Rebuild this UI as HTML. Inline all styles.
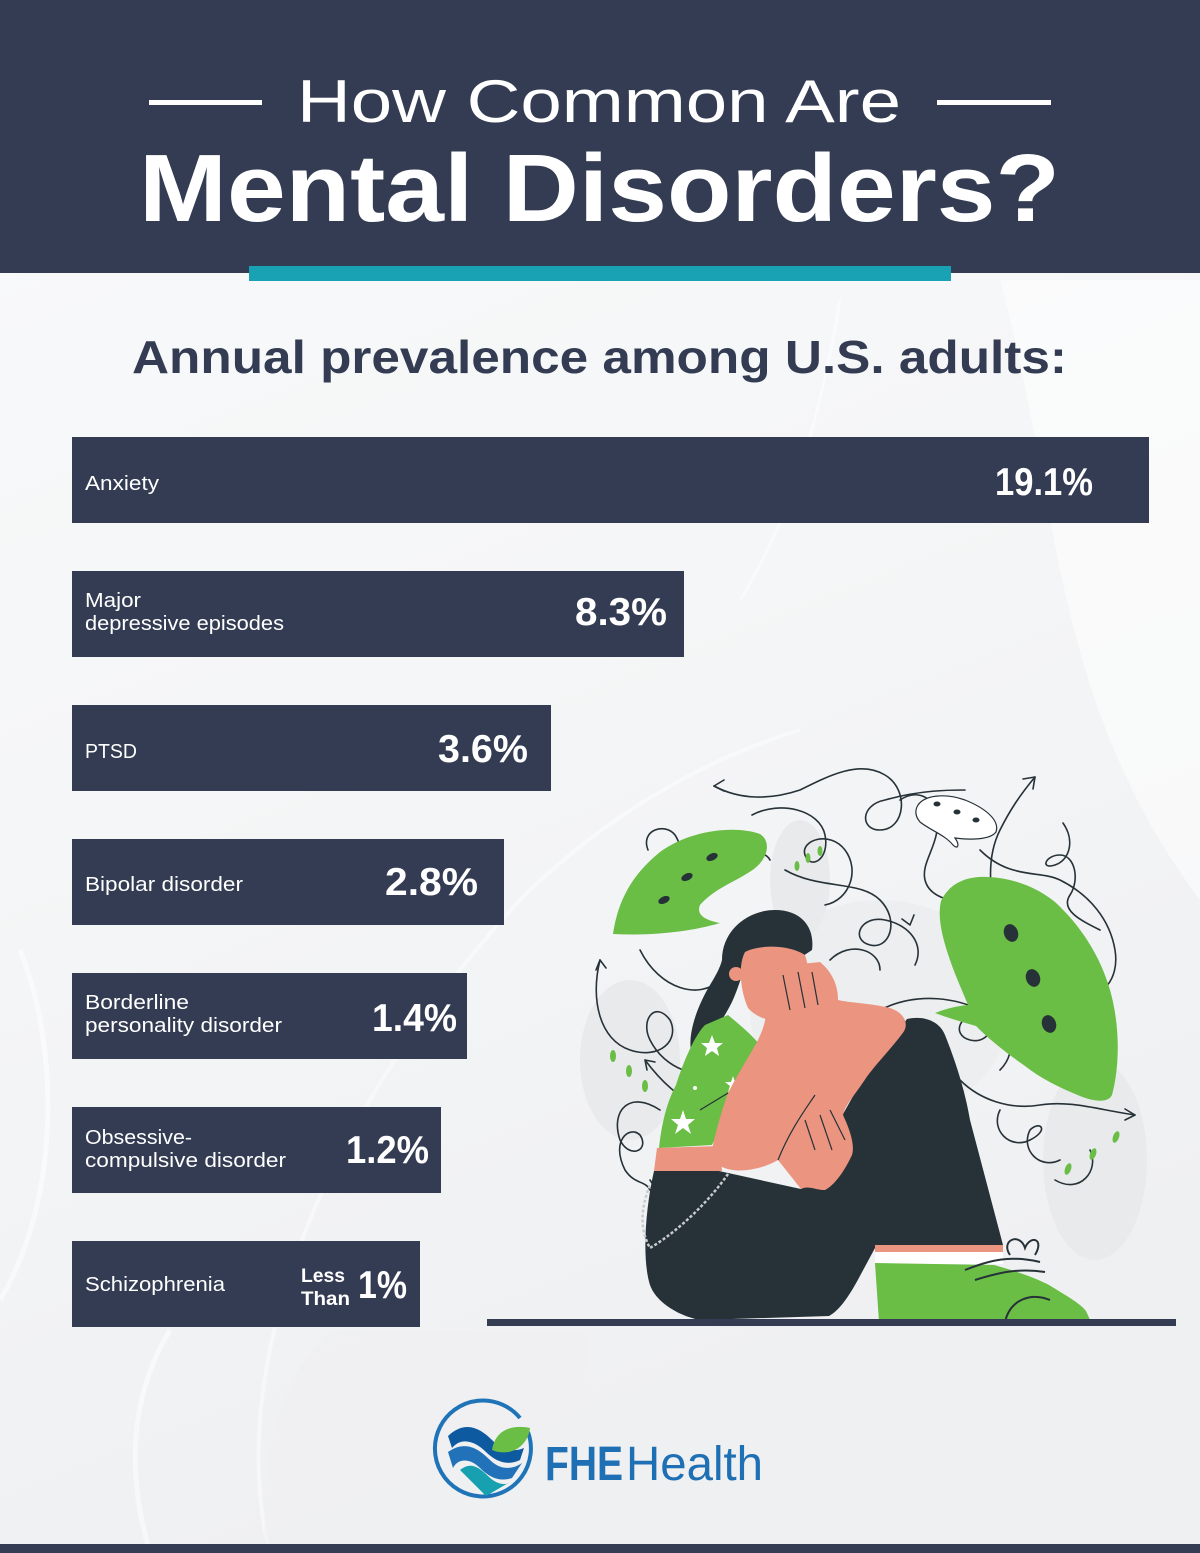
<!DOCTYPE html>
<html><head><meta charset="utf-8"><style>
html,body{margin:0;padding:0;width:1200px;height:1553px;overflow:hidden;background:#f3f4f6}
svg{display:block}
text{font-family:"Liberation Sans",Arial,sans-serif}
</style></head><body>
<svg width="1200" height="1553" viewBox="0 0 1200 1553" xmlns="http://www.w3.org/2000/svg">
<defs>
<linearGradient id="bg" x1="0" y1="0" x2="0.3" y2="1">
<stop offset="0" stop-color="#f9fafb"/><stop offset="0.5" stop-color="#f5f6f7"/><stop offset="1" stop-color="#eff0f2"/>
</linearGradient>
</defs>
<rect x="0" y="0" width="1200" height="1553" fill="url(#bg)"/>
<!-- faint background curves -->
<path d="M1000 280 C 1060 500 1050 700 1200 900 L1200 280 Z" fill="#ffffff" opacity="0.5"/>
<path d="M0 1300 C 60 1200 60 1050 20 950" stroke="#ffffff" stroke-width="5" fill="none" opacity="0.5"/>
<path d="M150 1553 C 120 1450 140 1380 170 1330" stroke="#ffffff" stroke-width="5" fill="none" opacity="0.5"/>
<path d="M270 1553 C 230 1400 290 1150 520 900 C 600 820 700 760 800 730" stroke="#ffffff" stroke-width="4" fill="none" opacity="0.45"/>
<path d="M840 300 C 820 420 790 520 740 600" stroke="#ffffff" stroke-width="3" fill="none" opacity="0.45"/>
<path d="M265 1553 C 260 1450 280 1380 330 1330 L 590 1330 L 590 1553 Z" fill="#eff0f2" opacity="0.5"/>

<!-- header -->
<rect x="0" y="0" width="1200" height="273" fill="#333c52"/>
<rect x="249" y="266" width="702" height="15" fill="#19a2b4"/>
<rect x="149" y="100" width="113" height="5" fill="#ffffff"/>
<rect x="937" y="100" width="114" height="5" fill="#ffffff"/>
<text x="297" y="122" font-size="60" fill="#ffffff" textLength="604" lengthAdjust="spacingAndGlyphs">How Common Are</text>
<text x="139" y="221" font-size="96" font-weight="bold" fill="#ffffff" textLength="921" lengthAdjust="spacingAndGlyphs">Mental Disorders?</text>

<text x="132" y="373" font-size="46" font-weight="bold" fill="#333c52" textLength="935" lengthAdjust="spacingAndGlyphs">Annual prevalence among U.S. adults:</text>

<!-- bars -->
<g fill="#343c53">
<rect x="72" y="437" width="1077" height="86"/>
<rect x="72" y="571" width="612" height="86"/>
<rect x="72" y="705" width="479" height="86"/>
<rect x="72" y="839" width="432" height="86"/>
<rect x="72" y="973" width="395" height="86"/>
<rect x="72" y="1107" width="369" height="86"/>
<rect x="72" y="1241" width="348" height="86"/>
</g>
<g fill="#ffffff" font-size="20">
<text x="85" y="490" textLength="74" lengthAdjust="spacingAndGlyphs">Anxiety</text>
<text x="85" y="607" textLength="56" lengthAdjust="spacingAndGlyphs">Major</text>
<text x="85" y="630" textLength="199" lengthAdjust="spacingAndGlyphs">depressive episodes</text>
<text x="85" y="758" textLength="52" lengthAdjust="spacingAndGlyphs">PTSD</text>
<text x="85" y="891" textLength="158" lengthAdjust="spacingAndGlyphs">Bipolar disorder</text>
<text x="85" y="1009" textLength="104" lengthAdjust="spacingAndGlyphs">Borderline</text>
<text x="85" y="1032" textLength="197" lengthAdjust="spacingAndGlyphs">personality disorder</text>
<text x="85" y="1144" textLength="107" lengthAdjust="spacingAndGlyphs">Obsessive-</text>
<text x="85" y="1167" textLength="201" lengthAdjust="spacingAndGlyphs">compulsive disorder</text>
<text x="85" y="1291" textLength="140" lengthAdjust="spacingAndGlyphs">Schizophrenia</text>
</g>
<g fill="#ffffff" font-size="39" font-weight="bold">
<text x="995" y="495" textLength="98" lengthAdjust="spacingAndGlyphs">19.1%</text>
<text x="575" y="625" textLength="92" lengthAdjust="spacingAndGlyphs">8.3%</text>
<text x="438" y="762" textLength="90" lengthAdjust="spacingAndGlyphs">3.6%</text>
<text x="385" y="895" textLength="93" lengthAdjust="spacingAndGlyphs">2.8%</text>
<text x="372" y="1031" textLength="85" lengthAdjust="spacingAndGlyphs">1.4%</text>
<text x="346" y="1163" textLength="83" lengthAdjust="spacingAndGlyphs">1.2%</text>
<text x="358" y="1298" textLength="49" lengthAdjust="spacingAndGlyphs">1%</text>
</g>
<g fill="#ffffff" font-size="19" font-weight="bold">
<text x="301" y="1282" textLength="44" lengthAdjust="spacingAndGlyphs">Less</text>
<text x="301" y="1305" textLength="49" lengthAdjust="spacingAndGlyphs">Than</text>
</g>

<!-- illustration -->
<g>
<!-- gray background blobs -->
<ellipse cx="630" cy="1060" rx="50" ry="80" fill="#e9eaec"/>
<ellipse cx="1095" cy="1160" rx="52" ry="100" fill="#e9eaec"/>
<ellipse cx="880" cy="1010" rx="130" ry="110" fill="#eceef0"/>
<ellipse cx="800" cy="880" rx="30" ry="60" fill="#e9eaec"/>

<!-- squiggles -->
<g fill="none" stroke="#263238" stroke-width="1.6" stroke-linecap="round">
<path d="M714 786 C 740 800 770 800 800 790 C 830 775 860 760 885 775 C 910 790 905 830 880 830 C 860 830 860 805 885 800 C 920 790 950 790 965 790"/>
<path d="M714 786 l10 -6 M714 786 l10 5"/>
<path d="M752 815 C 780 800 820 810 825 835 C 830 860 810 870 805 855 C 800 840 830 830 845 850 C 860 870 850 900 825 905"/>
<path d="M648 850 C 640 830 665 822 675 835 C 685 850 680 870 670 860"/>
<path d="M667 890 C 690 860 760 840 770 860"/>
<path d="M600 960 C 590 1000 600 1040 630 1050 C 660 1060 680 1040 670 1020 C 655 1000 640 1020 650 1040 C 665 1070 700 1080 720 1070"/>
<path d="M600 960 l-4 10 M600 960 l6 8"/>
<path d="M640 950 C 660 990 700 1000 720 980"/>
<path d="M645 1060 C 660 1080 680 1100 700 1105"/>
<path d="M645 1060 l10 2 M645 1060 l2 10"/>
<path d="M660 1110 C 630 1090 610 1110 620 1140 C 630 1160 650 1150 640 1135 C 630 1125 610 1140 625 1170 C 635 1185 645 1180 650 1190"/>
<path d="M785 870 C 820 890 860 880 880 900 C 900 920 890 950 870 945 C 850 940 860 915 885 920 C 910 925 925 945 915 965"/>
<path d="M910 925 l4 -10 M910 925 l-8 -6"/>
<path d="M900 800 C 915 790 930 795 935 810 C 945 840 920 860 925 880 C 930 900 960 905 985 900"/>
<path d="M1035 777 C 1020 795 1010 810 1000 830 C 985 860 990 900 1000 920"/>
<path d="M1035 777 l-12 2 M1035 777 l-2 12"/>
<path d="M1063 823 C 1075 840 1070 860 1055 865 C 1040 870 1045 855 1060 855 C 1075 855 1080 880 1070 895 C 1060 910 1080 920 1100 930"/>
<path d="M980 850 C 1010 880 1040 870 1060 880 C 1090 895 1110 920 1115 950 C 1120 980 1100 1000 1085 990"/>
<path d="M880 1010 C 920 990 960 1000 980 1010 C 1000 1020 990 1045 970 1040 C 950 1035 960 1010 985 1015 C 1010 1020 1020 1050 1000 1070"/>
<path d="M960 1080 C 980 1100 1010 1110 1040 1105 C 1070 1100 1100 1110 1135 1115"/>
<path d="M1135 1115 l-10 -6 M1135 1115 l-10 5"/>
<path d="M1000 1110 C 990 1130 1010 1150 1030 1140 C 1050 1130 1040 1120 1030 1130 C 1020 1150 1040 1170 1060 1160"/>
<path d="M1055 1180 C 1080 1195 1100 1170 1090 1150"/>
<path d="M830 960 C 850 940 880 950 880 970"/>
<path d="M650 1180 C 660 1195 665 1205 650 1215"/>
</g>

<!-- left green bubble -->
<path d="M613 934 C 618 900 632 875 660 852 C 690 830 735 825 760 834 C 772 842 768 860 751 871 C 735 882 715 888 700 905 C 696 915 705 920 720 923 C 690 932 650 936 613 934 Z" fill="#6abd45"/>
<g fill="#263238">
<ellipse cx="712" cy="857" rx="6" ry="3.5" transform="rotate(-25 712 857)"/>
<ellipse cx="687" cy="877" rx="6" ry="3.5" transform="rotate(-25 687 877)"/>
<ellipse cx="664" cy="900" rx="6" ry="3.5" transform="rotate(-25 664 900)"/>
</g>
<!-- right green bubble -->
<path d="M941 901 C 950 882 968 876 988 877 C 1012 878 1035 886 1055 902 C 1080 925 1100 955 1110 990 C 1120 1025 1120 1065 1112 1095 C 1108 1103 1095 1102 1080 1096 C 1060 1088 1040 1078 1025 1066 C 1005 1052 990 1040 976 1026 C 962 1022 948 1018 935 1013 C 948 1008 958 1006 968 1005 C 962 990 955 975 950 960 C 943 940 937 918 941 901 Z" fill="#6abd45"/>
<g fill="#263238">
<ellipse cx="1011" cy="933" rx="7" ry="9" transform="rotate(-20 1011 933)"/>
<ellipse cx="1033" cy="978" rx="7" ry="9" transform="rotate(-20 1033 978)"/>
<ellipse cx="1049" cy="1024" rx="7" ry="9" transform="rotate(-20 1049 1024)"/>
</g>
<!-- white bubble -->
<path d="M918 805 C 925 795 945 793 965 800 C 985 808 1000 820 996 832 C 990 840 970 840 955 838 C 960 845 958 850 953 845 C 945 835 930 830 920 822 C 915 816 915 810 918 805 Z" fill="#ffffff" stroke="#263238" stroke-width="1.2"/>
<g fill="#263238"><ellipse cx="937" cy="804" rx="3.5" ry="2.5"/><ellipse cx="957" cy="812" rx="3.5" ry="2.5"/><ellipse cx="976" cy="820" rx="3.5" ry="2.5"/></g>

<!-- green dots -->
<g fill="#6abd45">
<ellipse cx="797" cy="866" rx="2.5" ry="5"/><ellipse cx="808" cy="858" rx="2.5" ry="5"/><ellipse cx="820" cy="851" rx="2.5" ry="5"/>
<ellipse cx="613" cy="1056" rx="3" ry="6"/><ellipse cx="629" cy="1071" rx="3" ry="6"/><ellipse cx="645" cy="1086" rx="3" ry="6"/>
<ellipse cx="1068" cy="1169" rx="3" ry="6" transform="rotate(20 1068 1169)"/><ellipse cx="1093" cy="1154" rx="3" ry="6" transform="rotate(20 1093 1154)"/><ellipse cx="1116" cy="1137" rx="3" ry="6" transform="rotate(20 1116 1137)"/>
</g>

<!-- hair -->
<path d="M722 960 C 722 930 748 910 775 910 C 802 910 815 928 812 950 L 800 958 C 790 948 770 944 752 952 C 744 965 740 985 732 1002 C 722 1022 708 1042 692 1056 C 686 1035 698 1005 710 985 C 716 975 720 968 722 960 Z" fill="#263238"/>
<!-- face -->
<path d="M745 952 C 760 944 790 945 805 955 C 812 975 808 1000 800 1015 C 785 1025 760 1022 748 1008 C 740 990 738 965 745 952 Z" fill="#eb9480"/>
<circle cx="736" cy="974" r="7" fill="#eb9480"/>
<!-- shirt -->
<path d="M728 1015 C 740 1025 752 1035 760 1045 L 740 1090 L 712 1145 L 659 1148 C 662 1120 668 1100 676 1085 C 684 1060 695 1035 705 1025 Z" fill="#6abd45"/>
<g fill="#ffffff">
<polygon points="712,1035 715,1043 723,1043 717,1048 719,1056 712,1051 705,1056 707,1048 701,1043 709,1043"/>
<polygon points="733,1076 735,1082 741,1082 736,1086 738,1092 733,1088 728,1092 730,1086 725,1082 731,1082"/>
<polygon points="683,1110 686,1119 695,1119 688,1125 691,1134 683,1128 675,1134 678,1125 671,1119 680,1119"/>
<circle cx="695" cy="1088" r="2"/>
</g>
<!-- midriff -->
<path d="M657 1148 L 720 1146 L 722 1171 L 654 1171 Z" fill="#eb9480"/>
<!-- pants -->
<path d="M654 1171 L 719 1171 L 801 1189 L 861 1082 L 907 1019 C 925 1015 940 1022 945 1035 C 955 1060 965 1090 970 1120 L 1003 1245 L 875 1248 L 861 1274 C 850 1295 840 1310 829 1316 L 700 1320 C 675 1315 655 1300 650 1285 C 642 1260 645 1210 654 1171 Z" fill="#263238"/>
<!-- arm/knee skin -->
<path d="M774 967 L 820 962 C 832 972 838 985 838 1000 C 850 1003 870 1003 890 1008 C 905 1013 910 1025 902 1034 C 890 1050 875 1065 866 1078 C 855 1095 845 1105 843 1115 C 850 1130 855 1145 852 1155 C 845 1170 835 1185 825 1190 C 815 1190 808 1185 801 1189 C 790 1175 782 1165 778 1160 C 765 1168 745 1172 733 1170 C 718 1168 710 1160 712 1150 C 716 1130 722 1110 728 1093 C 740 1070 750 1055 758 1040 C 763 1030 766 1020 766 1012 C 768 995 770 980 774 967 Z" fill="#eb9480"/>
<g fill="none" stroke="#263238" stroke-width="1.2">
<path d="M778 1160 C 790 1130 805 1110 815 1095"/>
<path d="M805 1120 L 815 1150 M820 1115 L 832 1150 M830 1110 L 845 1140"/>
<path d="M783 975 L 790 1010 M798 972 L 805 1008 M812 972 L 818 1005"/>
<path d="M728 1093 L 700 1110"/>
</g>
<!-- chain -->
<path d="M728 1174 C 710 1200 680 1230 650 1248 C 640 1230 640 1210 650 1185" fill="none" stroke="#c8cacc" stroke-width="2.5" stroke-dasharray="3 2"/>
<!-- ankle, sock, shoe -->
<rect x="875" y="1245" width="128" height="8" fill="#eb9480"/>
<rect x="875" y="1252" width="128" height="12" fill="#ffffff"/>
<path d="M875 1263 L 994 1265 C 1020 1272 1040 1280 1049 1285 C 1065 1295 1080 1303 1086 1311 L 1091 1322 L 879 1322 Z" fill="#6abd45"/>
<g fill="none" stroke="#263238" stroke-width="2">
<path d="M965 1270 C 990 1260 1010 1255 1040 1262"/>
<path d="M975 1280 C 1000 1272 1020 1268 1045 1272"/>
<path d="M1010 1255 C 1000 1240 1020 1232 1025 1248 C 1030 1235 1045 1238 1035 1255"/>
<path d="M1005 1322 C 1010 1300 1030 1292 1050 1300"/>
</g>
<!-- ground -->
<rect x="487" y="1319" width="689" height="7" fill="#333c52"/>
</g>

<!-- logo -->
<g>
<path d="M528 1432 A48 48 0 1 1 520 1418" fill="none" stroke="#1f73b7" stroke-width="4"/>
<path d="M448 1436 C 465 1420 480 1428 492 1440 C 503 1451 515 1452 524 1448 L 520 1460 C 508 1466 496 1462 486 1452 C 476 1442 462 1436 452 1448 Z" fill="#0d5aa0"/>
<path d="M448 1452 C 465 1440 478 1448 490 1460 C 500 1470 512 1470 522 1463 L 512 1478 C 500 1482 490 1478 480 1468 C 470 1458 458 1458 453 1468 Z" fill="#2272b9"/>
<path d="M460 1470 C 470 1462 478 1466 488 1476 C 496 1484 505 1486 510 1482 L 486 1496 Z" fill="#17a0b0"/>
<path d="M492 1450 C 495 1430 512 1424 530 1428 C 528 1445 512 1458 492 1450 Z" fill="#6abd45"/>
<text x="545" y="1480" font-size="48" font-weight="bold" fill="#1f6fb5" textLength="78" lengthAdjust="spacingAndGlyphs">FHE</text>
<text x="626" y="1480" font-size="48" fill="#1f6fb5" textLength="137" lengthAdjust="spacingAndGlyphs">Health</text>
</g>

<rect x="0" y="1544" width="1200" height="9" fill="#333c52"/>
</svg>
</body></html>
